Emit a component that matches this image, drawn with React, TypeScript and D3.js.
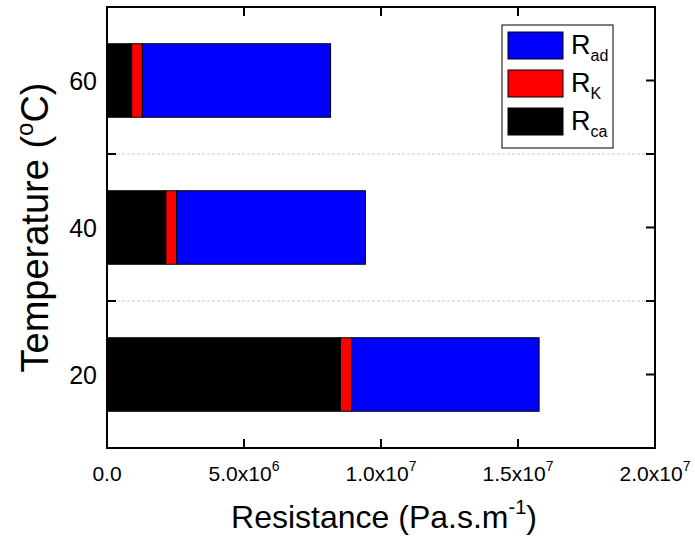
import React from "react";
import * as d3 from "d3";

// Temperature categories (°C), bottom to top
const temperatures = ["20", "40", "60"];
// Resistance components (Pa.s.m^-1), stacked left to right
const rCa = [8.52e6, 2.15e6, 0.9e6];
const rK = [0.41e6, 0.39e6, 0.39e6];
const rAd = [6.84e6, 6.89e6, 6.87e6];
// X axis ticks: mantissa and exponent
const xTicks = [0, 5e6, 1e7, 1.5e7, 2e7];
const xTickMantissa = ["0.0", "5.0x10", "1.0x10", "1.5x10", "2.0x10"];
const xTickExponent = ["", "6", "7", "7", "7"];

const W = 695;
const H = 540;
const M = { left: 107, right: 655, top: 7, bottom: 448 };
const FONT = "'Liberation Sans', Arial, sans-serif";

const seriesDefs = [
  { key: "ca", values: rCa, color: "#000000" },
  { key: "K", values: rK, color: "#ff0000" },
  { key: "ad", values: rAd, color: "#0000ff" },
];

const legendItems = [
  { main: "R", sub: "ad", color: "#0000ff" },
  { main: "R", sub: "K", color: "#ff0000" },
  { main: "R", sub: "ca", color: "#000000" },
];

export default function App() {
  const x = d3.scaleLinear().domain([0, 2e7]).range([M.left, M.right]);
  const y = d3
    .scaleBand<string>()
    .domain([...temperatures].reverse())
    .range([M.top, M.bottom])
    .paddingInner(0)
    .paddingOuter(0);
  const bw = y.bandwidth();
  const barH = bw * 0.5;

  const rows = temperatures.map((t, i) => ({
    t,
    ca: rCa[i],
    K: rK[i],
    ad: rAd[i],
  }));
  const stack = d3.stack<any>().keys(seriesDefs.map((s) => s.key));
  const stacked = stack(rows);

  const boundaries = temperatures.slice(0, -1).map((t) => (y(t) as number));
  const centers = temperatures.map((t) => (y(t) as number) + bw / 2);
  const tickLen = 9;

  return (
    <svg width={W} height={H} style={{ display: "block", position: "absolute", left: 0, top: 0 }} fontFamily={FONT}>
      <rect x={0} y={0} width={W} height={H} fill="#fff" />
      {/* dashed separators between categories */}
      {boundaries.map((b, i) => (
        <line key={"g" + i} x1={M.left} x2={M.right} y1={b} y2={b} stroke="#c8c8c8" strokeWidth={1} strokeDasharray="3,2" />
      ))}
      {/* stacked bars */}
      {stacked.map((layer, li) =>
        layer.map((d, i) => {
          const t = temperatures[i];
          const yc = (y(t) as number) + bw / 2;
          return (
            <rect
              key={seriesDefs[li].key + i}
              x={x(d[0])}
              y={yc - barH / 2}
              width={x(d[1]) - x(d[0])}
              height={barH}
              fill={seriesDefs[li].color}
              stroke="#000"
              strokeWidth={1}
            />
          );
        })
      )}
      {/* frame */}
      <rect x={M.left} y={M.top} width={M.right - M.left} height={M.bottom - M.top} fill="none" stroke="#000" strokeWidth={2} />
      {/* x ticks, bottom and top, pointing inward */}
      {xTicks.map((v, i) => (
        <g key={"xt" + i}>
          <line x1={x(v)} x2={x(v)} y1={M.bottom} y2={M.bottom - tickLen} stroke="#000" strokeWidth={2} />
          <line x1={x(v)} x2={x(v)} y1={M.top} y2={M.top + tickLen} stroke="#000" strokeWidth={2} />
          <text x={x(v)} y={481} fontSize={21} textAnchor="middle" fill="#000">
            {xTickMantissa[i]}
            {xTickExponent[i] && (
              <tspan fontSize={14} dy={-10}>
                {xTickExponent[i]}
              </tspan>
            )}
          </text>
        </g>
      ))}
      {/* y ticks at centers and boundaries, both sides */}
      {[...centers, ...boundaries].map((v, i) => (
        <g key={"yt" + i}>
          <line x1={M.left} x2={M.left + tickLen} y1={v} y2={v} stroke="#000" strokeWidth={2} />
          <line x1={M.right} x2={M.right - tickLen} y1={v} y2={v} stroke="#000" strokeWidth={2} />
        </g>
      ))}
      {temperatures.map((t, i) => (
        <text key={"yl" + t} x={97} y={centers[i] + 9} fontSize={25} textAnchor="end" fill="#000">
          {t}
        </text>
      ))}
      {/* axis titles */}
      <text x={384} y={528} fontSize={32} textAnchor="middle" fill="#000">
        Resistance (Pa.s.m
        <tspan fontSize={20} dy={-14}>-1</tspan>
        <tspan dy={14}>)</tspan>
      </text>
      <text transform={`translate(48,${(M.top + M.bottom) / 2}) rotate(-90)`} fontSize={38} textAnchor="middle" fill="#000">
        Temperature (
        <tspan fontSize={24} dy={-15}>o</tspan>
        <tspan dy={15}>C)</tspan>
      </text>
      {/* legend */}
      <rect x={502} y={25} width={111} height={123} fill="#fff" stroke="#000" strokeWidth={1} />
      {legendItems.map((it, i) => {
        const top = 32 + i * 38;
        return (
          <g key={"lg" + i}>
            <rect x={508} y={top} width={55} height={27} fill={it.color} stroke="#000" strokeWidth={1} />
            <text x={571} y={top + 22} fontSize={27} fill="#000">
              {it.main}
              <tspan fontSize={16} dy={7}>
                {it.sub}
              </tspan>
            </text>
          </g>
        );
      })}
    </svg>
  );
}
